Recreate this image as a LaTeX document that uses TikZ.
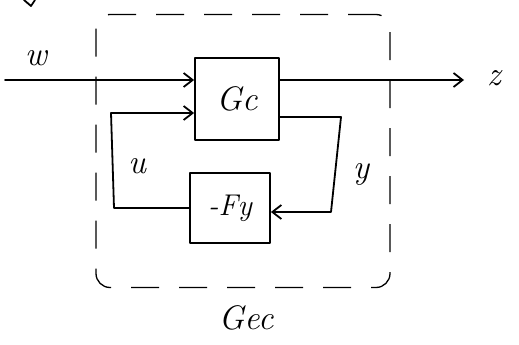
\documentclass[tikz,border=0pt]{standalone}
\usepackage{fontspec}
\usetikzlibrary{arrows.meta}
\begin{document}
\begin{tikzpicture}[x=1pt,y=-1pt,
  ink/.style={line width=1.8pt,line cap=round,line join=round},
  block/.style={ink,draw,minimum width=84pt,minimum height=82pt,inner sep=0pt},
  arr/.style={ink,-{Straight Barb[length=9pt,width=14pt,line width=1.8pt]}},
  lbl/.style={font=\fontsize{34}{34}\selectfont\itshape},
  frame/.style={line width=1.3pt,dash pattern=on 28pt off 20pt,rounded corners=14pt}]
  \useasboundingbox (0,0) rectangle (519,345);

  % blocks
  \node[block] (gc) at (237,99) {\fontsize{34}{34}\selectfont\itshape Gc};
  \node[block,minimum width=80pt,minimum height=70pt] (fy) at (230,208) {\fontsize{30}{30}\selectfont\itshape -Fy};

  % enclosing dashed frame
  \node[frame,draw,minimum width=294pt,minimum height=273pt,inner sep=0pt] (gec) at (243,151) {};
  \node[lbl] (geclbl) at (246,318) {Gec};

  % exogenous input and performance output
  \coordinate (win) at (5,80);
  \coordinate (zout) at (464,80);
  \draw[arr] (win) -- (gc.west |- win);
  \draw[arr] (gc.east |- zout) -- (zout);
  \node[lbl] (wl) at (36,58) {w};
  \node[lbl] (zl) at (494,78) {z};

  % control loop: u from -Fy back into Gc
  \coordinate (ua) at (114,208);
  \coordinate (ub) at (111,113);
  \draw[arr] (fy.west |- ua) -- (ua) -- (ub) -- (gc.west |- ub);
  \node[lbl] (ul) at (137,166) {u};

  % measurement loop: y from Gc into -Fy
  \coordinate (ya) at (341,117);
  \coordinate (yb) at (331,212);
  \draw[arr] (gc.east |- ya) -- (ya) -- (yb) -- (fy.east |- yb);
  \node[lbl] (yl) at (361,174) {y};

  % fragment of a stroke cut off at the top edge
  \draw[ink] (24,0) -- (31,6) -- (35,0);
\end{tikzpicture}
\end{document}
